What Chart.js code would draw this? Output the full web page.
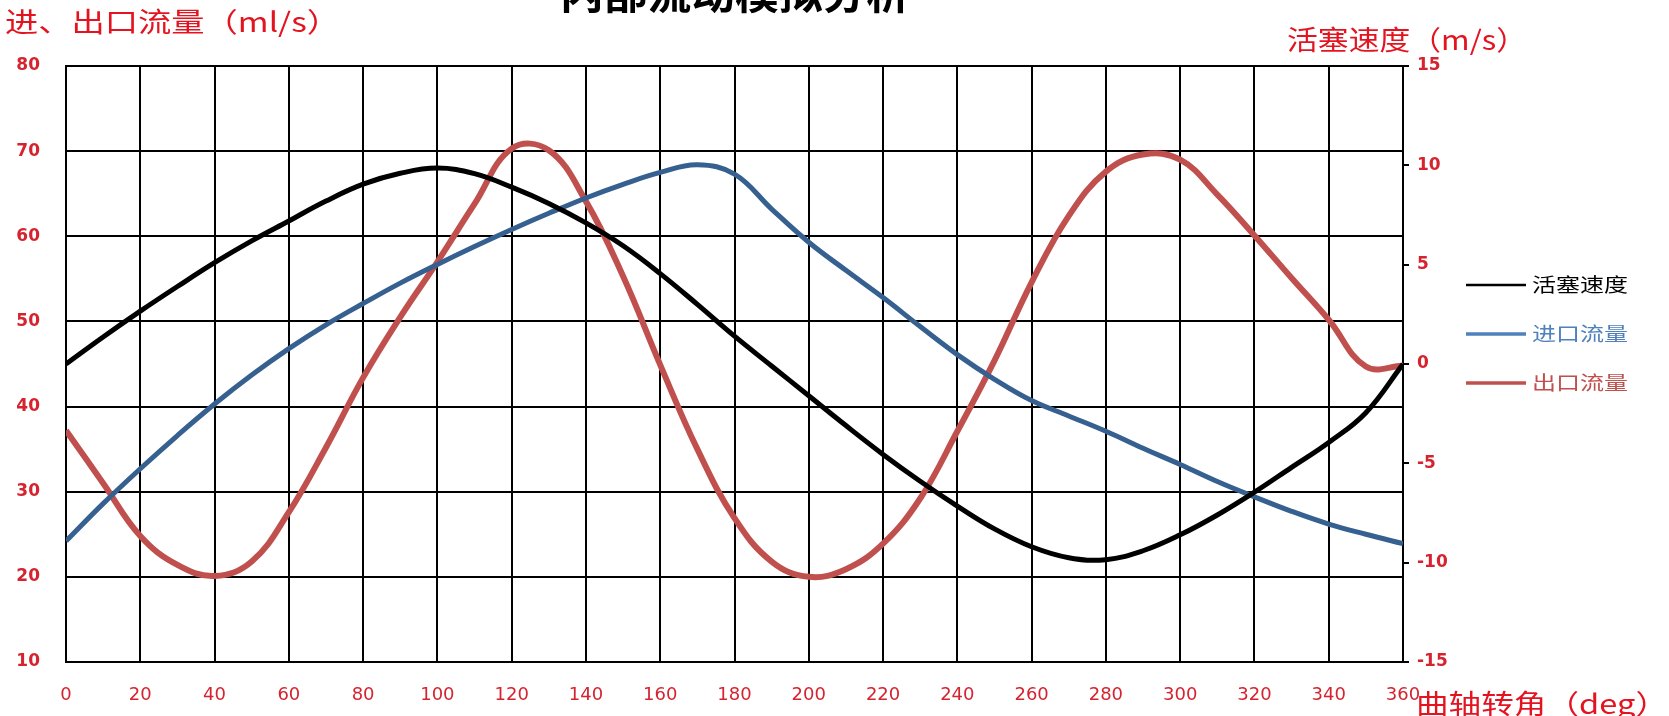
<!DOCTYPE html>
<html>
<head>
<meta charset="utf-8">
<script src="https://cdn.jsdelivr.net/npm/chart.js@4.4.0/dist/chart.umd.min.js"></script>
<style>
	html, body { margin: 0; padding: 0; background: #fff; overflow: hidden; }
	#wrap { width: 1669px; height: 716px; }
</style>
</head>
<body>
<div id="wrap"><canvas id="chart1" width="1669" height="716"></canvas></div>
<script>
// crank angle (deg)
const angles = [0, 10, 20, 30, 40, 50, 60, 70, 80, 90, 100, 110, 120, 130, 140, 150, 160, 170, 180,
	190, 200, 210, 220, 230, 240, 250, 260, 270, 280, 290, 300, 310, 320, 330, 340, 350, 360];

// piston speed (m/s), right axis
const pistonSpeed = [0, 1.36, 2.66, 3.9, 5.1, 6.2, 7.2, 8.2, 9.05, 9.6, 9.86, 9.58, 8.9, 8.08, 7.1, 5.95, 4.55, 3.0, 1.4,
	-0.1, -1.6, -3.1, -4.55, -5.9, -7.15, -8.3, -9.2, -9.75, -9.85, -9.4, -8.6, -7.6, -6.45, -5.2, -3.95, -2.45, 0];

// inlet flow (ml/s), left axis
const inletFlow = [24.2, 28.6, 32.7, 36.6, 40.3, 43.7, 46.8, 49.6, 52.1, 54.5, 56.7, 58.8, 60.8, 62.7, 64.5, 66.1, 67.5, 68.4, 67.3,
	63.2, 59.3, 56.0, 52.8, 49.4, 46.1, 43.2, 40.7, 38.9, 37.1, 35.1, 33.2, 31.2, 29.4, 27.7, 26.2, 25.0, 23.9];

// outlet flow (ml/s), left axis
const outletFlow = [37.2, 31.0, 24.8, 21.4, 20.1, 21.8, 27.6, 35.2, 43.4, 50.5, 57.0, 63.8, 70.3, 70.1, 64.1, 55.3, 44.9, 35.0, 26.9,
	21.8, 20.0, 20.9, 23.9, 29.2, 37.1, 45.4, 54.6, 62.4, 67.6, 69.6, 69.0, 64.9, 60.1, 55.1, 50.2, 44.7, 44.8];

const seriesNames = ['活塞速度', '进口流量', '出口流量'];
const lineColors = ['#000000', '#36608f', '#c0504d'];
const legendTextColors = ['#000000', '#4f81bd', '#c0504d'];

const chartTitle = '内部流动模拟分析';
const leftTitle = '进、出口流量（ml/s）';
const rightTitle = '活塞速度（m/s）';
const bottomTitle = '曲轴转角（deg）';

const tickRed = '#d5232f';
const titleRed = '#e3141f';

const toPoints = vals => vals.map((v, i) => ({ x: angles[i], y: v }));

// the source text is horizontally stretched, so stretch text to a width
const wideText = (ctx, text, x, y, width, align) => {
	const w = ctx.measureText(text).width;
	ctx.save();
	ctx.translate(x, y);
	ctx.scale(width / w, 1);
	ctx.textAlign = 'left';
	ctx.fillText(text, align == 'center' ? -w / 2 : 0, 0);
	ctx.restore();
};

// titles + legend drawn on top
const decorations = {
	id: 'decorations',
	afterDraw(chart) {
		const ctx = chart.ctx;
		ctx.save();
		ctx.textBaseline = 'middle';

		// main title, cut off at the top edge like the source
		ctx.fillStyle = '#000';
		ctx.font = 'bold 40px "Noto Sans CJK SC"';
		wideText(ctx, chartTitle, 735, -6, 350, 'center');

		ctx.fillStyle = titleRed;
		ctx.font = '27px "Noto Sans CJK SC"';
		wideText(ctx, leftTitle, 5, 22, 335);
		wideText(ctx, rightTitle, 1287, 40, 240);
		wideText(ctx, bottomTitle, 1416, 704, 252);

		// legend
		const ys = [285, 334, 383];
		ctx.font = '19px "Noto Sans CJK SC"';
		seriesNames.forEach((name, i) => {
			ctx.strokeStyle = legendTextColors[i];
			ctx.lineWidth = i == 0 ? 2.5 : 3.5;
			ctx.beginPath();
			ctx.moveTo(1466, ys[i]);
			ctx.lineTo(1526, ys[i]);
			ctx.stroke();
			ctx.fillStyle = legendTextColors[i];
			wideText(ctx, name, 1532, ys[i], 96);
		});
		ctx.restore();
	}
};

const ctx = document.getElementById('chart1');
const myChart = new Chart(ctx, {
	type: 'line',
	data: {
		datasets: [{
			label: seriesNames[0],
			data: toPoints(pistonSpeed),
			borderColor: lineColors[0],
			borderWidth: 5,
			yAxisID: 'y1'
		}, {
			label: seriesNames[1],
			data: toPoints(inletFlow),
			borderColor: lineColors[1],
			borderWidth: 5,
			yAxisID: 'y'
		}, {
			label: seriesNames[2],
			data: toPoints(outletFlow),
			borderColor: lineColors[2],
			borderWidth: 6,
			yAxisID: 'y'
		}]
	},
	options: {
		responsive: false,
		animation: false,
		layout: { padding: { top: 66, left: 0, right: 0, bottom: 0 } },
		elements: {
			point: { radius: 0 },
			line: { tension: 0.4, fill: false, capBezierPoints: true }
		},
		plugins: {
			legend: { display: false },
			title: { display: false },
			tooltip: { enabled: false }
		},
		scales: {
			x: {
				type: 'linear',
				min: 0,
				max: 360,
				ticks: { stepSize: 20, color: tickRed, font: { family: 'DejaVu Sans', size: 18 }, padding: 23 },
				grid: { color: '#000', lineWidth: 2, drawTicks: false },
				border: { color: '#000', width: 2 },
				afterFit(s) { s.height = 54; }
			},
			y: {
				position: 'left',
				min: 10,
				max: 80,
				ticks: { stepSize: 10, color: tickRed, font: { family: 'DejaVu Sans', size: 17, weight: 'bold' }, padding: 26 },
				grid: { color: '#000', lineWidth: 2, drawTicks: false },
				border: { color: '#000', width: 2 },
				afterFit(s) { s.width = 66; }
			},
			y1: {
				position: 'right',
				min: -15,
				max: 15,
				ticks: { stepSize: 5, color: tickRed, font: { family: 'DejaVu Sans', size: 17, weight: 'bold' }, padding: 8 },
				grid: { drawOnChartArea: false, drawTicks: true, tickLength: 6, color: '#000', lineWidth: 2 },
				border: { color: '#000', width: 2 },
				afterFit(s) { s.width = 266; }
			}
		}
	},
	plugins: [decorations]
});
</script>
</body>
</html>
